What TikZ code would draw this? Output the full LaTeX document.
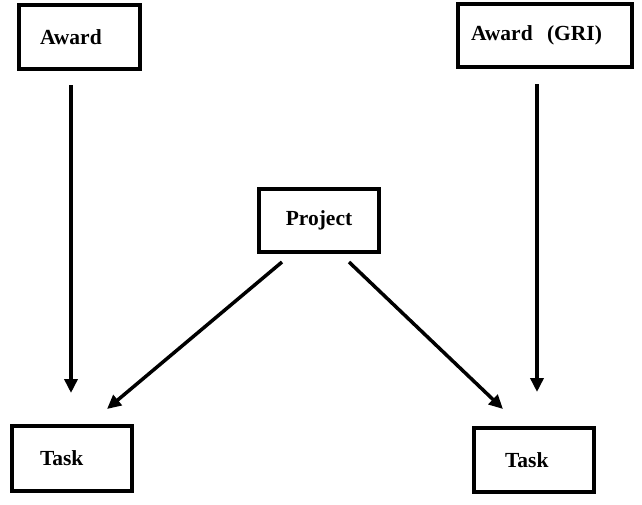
\documentclass[tikz,border=0pt]{standalone}
\usepackage{fontspec}
\setmainfont{Liberation Serif}
\usetikzlibrary{arrows.meta}
\begin{document}
\begin{tikzpicture}[x=1pt,y=-1pt,
  box/.style={draw=black,line width=3.2pt,rectangle,inner ysep=0pt,
    font=\fontsize{21.5}{24}\selectfont\bfseries},
  conn/.style={line width=3.5pt,-{Triangle[length=14pt,width=13pt]}}]
\useasboundingbox[fill=white] (0,0) rectangle (642,504);
\node[box,minimum width=121pt,minimum height=64pt,inner xsep=21pt,text width=79pt,align=left] (award) at (79.5,37) {Award};
\node[box,minimum width=174pt,minimum height=63pt,inner xsep=13pt,text width=148pt,align=left] (awardgri) at (545,35.5) {Award\ \ (GRI)};
\node[box,minimum width=120pt,minimum height=63pt,inner xsep=5pt,text width=110pt,align=center] (project) at (319,220.5) {Project};
\node[box,minimum width=120pt,minimum height=65pt,inner xsep=28pt,text width=64pt,align=left] (task1) at (72,458.5) {Task};
\node[box,minimum width=120pt,minimum height=64pt,inner xsep=31pt,text width=58pt,align=left] (task2) at (534,460) {Task};
\coordinate (a1s) at (71,85);
\coordinate (a1e) at (71,393);
\coordinate (a2s) at (537,84);
\coordinate (a2e) at (537,392);
\coordinate (p1s) at (282,262);
\coordinate (p1e) at (107,409);
\coordinate (p2s) at (349,262);
\coordinate (p2e) at (503,409);
\draw[conn] (a1s) -- (a1e);
\draw[conn] (a2s) -- (a2e);
\draw[conn] (p1s) -- (p1e);
\draw[conn] (p2s) -- (p2e);
\end{tikzpicture}
\end{document}
